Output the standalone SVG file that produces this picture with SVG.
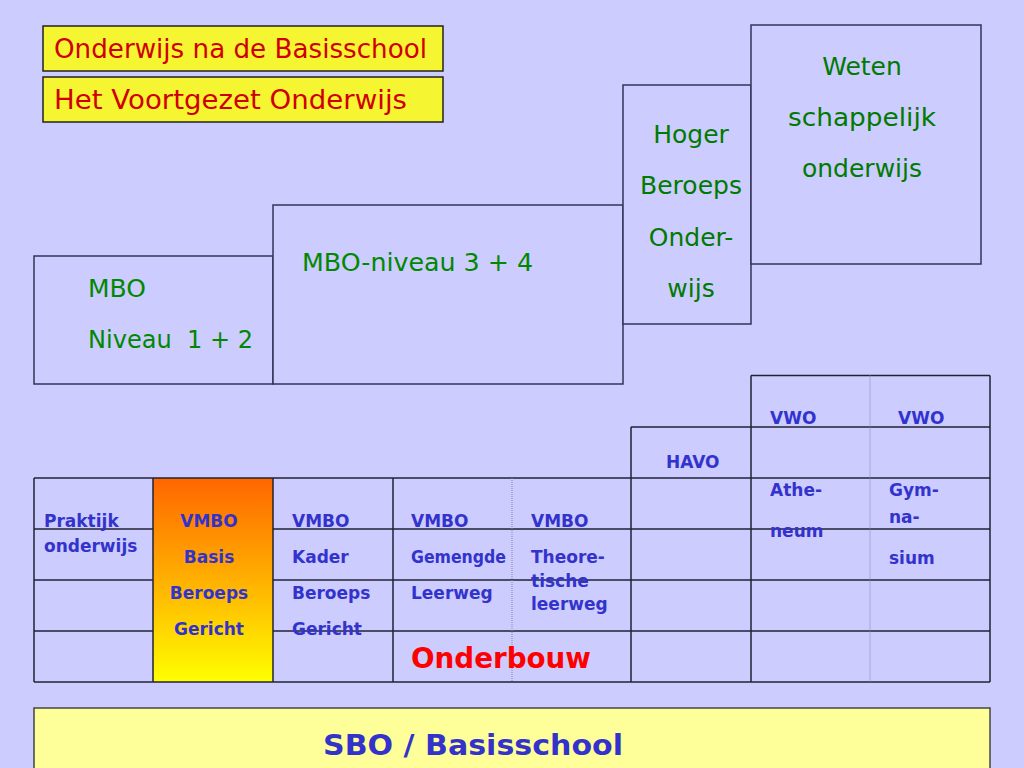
<svg xmlns="http://www.w3.org/2000/svg" width="1024" height="768" viewBox="0 0 1024 768">
<defs>
<linearGradient id="vmboGrad" x1="0" y1="0" x2="0" y2="1">
<stop offset="0" stop-color="#FF6600"/>
<stop offset="0.5" stop-color="#FFB000"/>
<stop offset="1" stop-color="#FFFF00"/>
</linearGradient>
<style>
.box{fill:#CCCCFF;stroke:#33335A;stroke-width:1.5}
.tbox{fill:#F5F532;stroke:#222222;stroke-width:1.5}
.t-red{font-family:"DejaVu Sans",sans-serif;font-size:26px;fill:#D00000}
.t-green{font-family:"DejaVu Sans",sans-serif;font-size:25px;fill:#008800}
.t-green-c{font-family:"DejaVu Sans",sans-serif;font-size:25px;fill:#007A00;text-anchor:middle}
.t-blue{font-family:"DejaVu Sans",sans-serif;font-size:17px;font-weight:bold;fill:#3333CC}
.t-blue-c{font-family:"DejaVu Sans",sans-serif;font-size:17px;font-weight:bold;fill:#3333CC;text-anchor:middle}
.grid line{stroke:#222233;stroke-width:1.5}
.grid line.dot{stroke:#8888AA;stroke-width:1;stroke-dasharray:1 1}
</style>
</defs>
<rect width="1024" height="768" fill="#CCCCFF"/>

<g id="title1">
<rect class="tbox" x="43" y="26" width="400" height="45"/>
<text class="t-red" x="54" y="58" textLength="373" lengthAdjust="spacingAndGlyphs">Onderwijs na de Basisschool</text>
</g>
<g id="title2">
<rect class="tbox" x="43" y="77" width="400" height="45"/>
<text class="t-red" x="54" y="109" textLength="353" lengthAdjust="spacingAndGlyphs">Het Voortgezet Onderwijs</text>
</g>

<g id="mbo12">
<rect class="box" x="34" y="256" width="239" height="128"/>
<text class="t-green" x="88" y="297">MBO</text>
<text class="t-green" x="88" y="348" xml:space="preserve" textLength="165" lengthAdjust="spacingAndGlyphs">Niveau  1 + 2</text>
</g>
<g id="mbo34">
<rect class="box" x="273" y="205" width="350" height="179"/>
<text class="t-green" x="302" y="271" textLength="231" lengthAdjust="spacingAndGlyphs">MBO-niveau 3 + 4</text>
</g>
<g id="hbo">
<rect class="box" x="623" y="85" width="128" height="239"/>
<text class="t-green-c" x="691" y="143">Hoger</text>
<text class="t-green-c" x="691" y="194">Beroeps</text>
<text class="t-green-c" x="691" y="246">Onder-</text>
<text class="t-green-c" x="691" y="297">wijs</text>
</g>
<g id="wo">
<rect class="box" x="751" y="25" width="230" height="239"/>
<text class="t-green-c" x="862" y="75">Weten</text>
<text class="t-green-c" x="862" y="126" textLength="148" lengthAdjust="spacingAndGlyphs">schappelijk</text>
<text class="t-green-c" x="862" y="177">onderwijs</text>
</g>

<g id="vmbo-basis-fill">
<rect x="153" y="478" width="120" height="204" fill="url(#vmboGrad)"/>
</g>

<g id="table-grid" class="grid">
<line x1="751" y1="375.5" x2="990" y2="375.5"/>
<line x1="631" y1="427" x2="990" y2="427"/>
<line x1="34" y1="478" x2="990" y2="478"/>
<line x1="34" y1="529" x2="153" y2="529"/>
<line x1="273" y1="529" x2="990" y2="529"/>
<line x1="34" y1="580" x2="153" y2="580"/>
<line x1="273" y1="580" x2="990" y2="580"/>
<line x1="34" y1="631" x2="153" y2="631"/>
<line x1="273" y1="631" x2="990" y2="631"/>
<line x1="34" y1="682" x2="990" y2="682"/>
<line x1="34" y1="478" x2="34" y2="682"/>
<line x1="153" y1="478" x2="153" y2="682"/>
<line x1="273" y1="478" x2="273" y2="682"/>
<line x1="393" y1="478" x2="393" y2="682"/>
<line class="dot" x1="512" y1="478" x2="512" y2="682"/>
<line x1="631" y1="427" x2="631" y2="682"/>
<line x1="751" y1="375.5" x2="751" y2="682"/>
<line class="dot" x1="870" y1="375.5" x2="870" y2="682"/>
<line x1="990" y1="375.5" x2="990" y2="682"/>
</g>

<g id="praktijk">
<text class="t-blue" x="44" y="527">Praktijk</text>
<text class="t-blue" x="44" y="552">onderwijs</text>
</g>
<g id="vmbo-basis">
<text class="t-blue-c" x="209" y="527">VMBO</text>
<text class="t-blue-c" x="209" y="563">Basis</text>
<text class="t-blue-c" x="209" y="599">Beroeps</text>
<text class="t-blue-c" x="209" y="635">Gericht</text>
</g>
<g id="vmbo-kader">
<text class="t-blue" x="292" y="527">VMBO</text>
<text class="t-blue" x="292" y="563">Kader</text>
<text class="t-blue" x="292" y="599">Beroeps</text>
<text class="t-blue" x="292" y="635">Gericht</text>
</g>
<g id="vmbo-gemengd">
<text class="t-blue" x="411" y="527">VMBO</text>
<text class="t-blue" x="411" y="563" textLength="95" lengthAdjust="spacingAndGlyphs">Gemengde</text>
<text class="t-blue" x="411" y="599">Leerweg</text>
</g>
<g id="vmbo-theoretisch">
<text class="t-blue" x="531" y="527">VMBO</text>
<text class="t-blue" x="531" y="563">Theore-</text>
<text class="t-blue" x="531" y="587">tische</text>
<text class="t-blue" x="531" y="610">leerweg</text>
</g>
<g id="havo">
<text class="t-blue" x="666" y="468">HAVO</text>
</g>
<g id="vwo-atheneum">
<text class="t-blue" x="770" y="424">VWO</text>
<text class="t-blue" x="770" y="496">Athe-</text>
<text class="t-blue" x="770" y="537">neum</text>
</g>
<g id="vwo-gymnasium">
<text class="t-blue" x="898" y="424">VWO</text>
<text class="t-blue" x="889" y="496">Gym-</text>
<text class="t-blue" x="889" y="523">na-</text>
<text class="t-blue" x="889" y="564">sium</text>
</g>
<g id="onderbouw">
<text x="411" y="668" font-family="DejaVu Sans, sans-serif" font-size="28" font-weight="bold" fill="#FF0000" textLength="180" lengthAdjust="spacingAndGlyphs">Onderbouw</text>
</g>

<g id="basisschool">
<rect x="34" y="708" width="956" height="70" fill="#FFFF99" stroke="#444444" stroke-width="1.5"/>
<text x="323" y="755" font-family="DejaVu Sans, sans-serif" font-size="29" font-weight="bold" fill="#3333CC" textLength="300" lengthAdjust="spacingAndGlyphs">SBO / Basisschool</text>
</g>
</svg>
